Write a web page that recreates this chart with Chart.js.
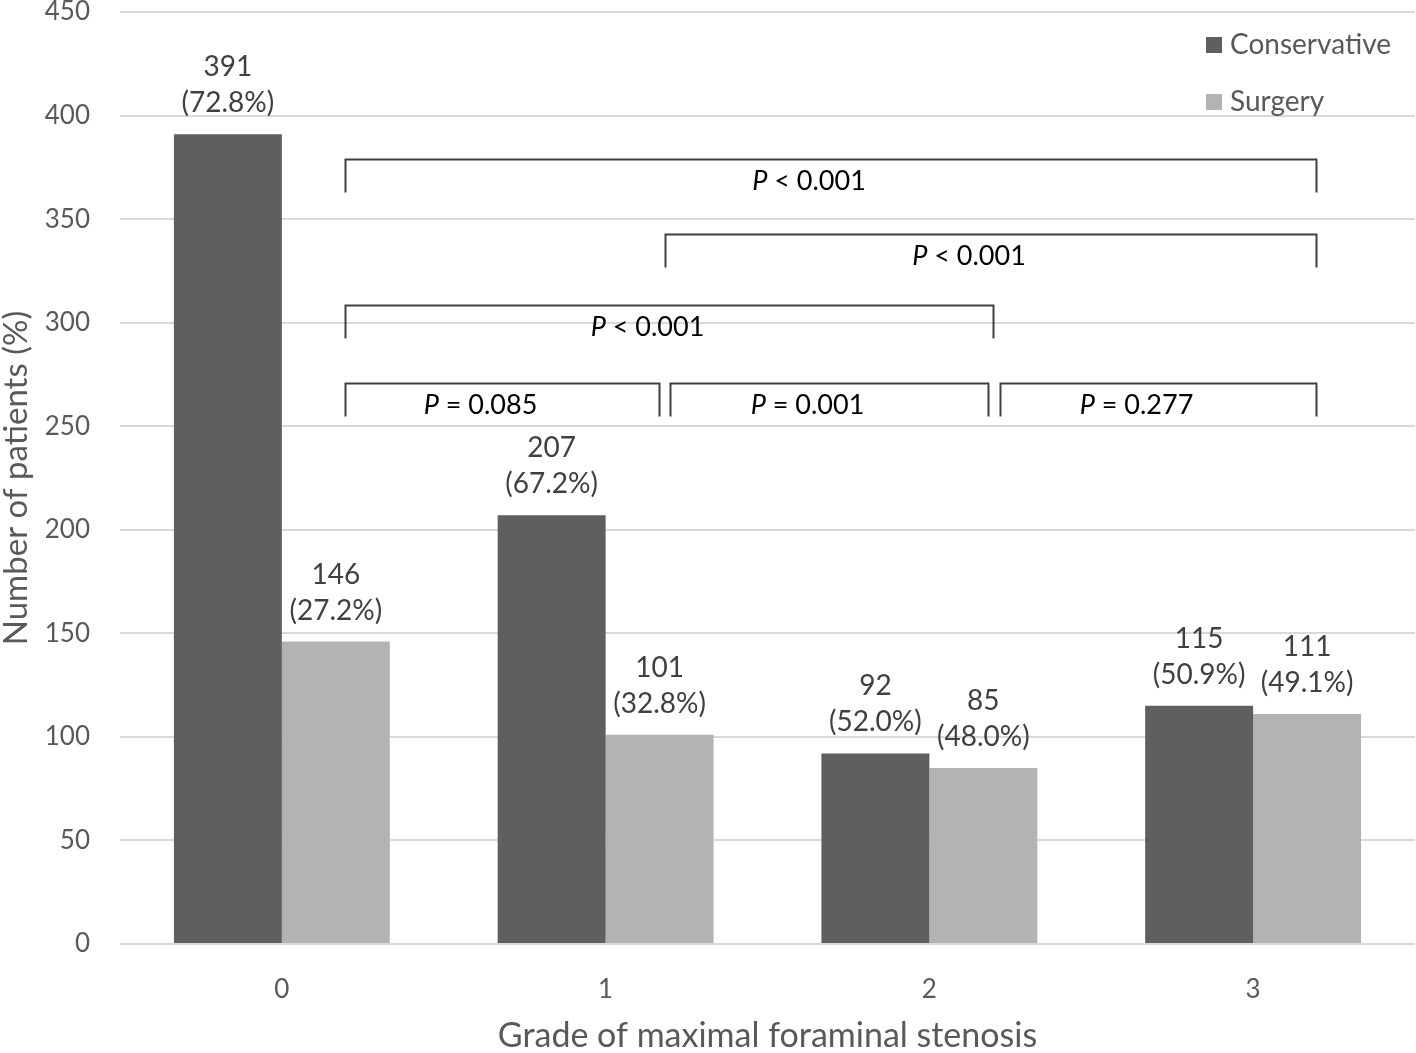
<!DOCTYPE html>
<html>
<head>
<meta charset="utf-8">
<script src="https://cdn.jsdelivr.net/npm/chart.js@4.4.1/dist/chart.umd.min.js"></script>
<style>
  html, body { margin: 0; padding: 0; background: #ffffff; }
  #grafico { display: block; }
</style>
</head>
<body>
<canvas id="grafico" width="1416" height="1053"></canvas>
<script>
// datos
const grados = ['0', '1', '2', '3'];
const conservador = [391, 207, 92, 115];
const cirugia = [146, 101, 85, 111];
const pctConservador = ['72.8%', '67.2%', '52.0%', '50.9%'];
const pctCirugia = ['27.2%', '32.8%', '48.0%', '49.1%'];
const series = ['Conservative', 'Surgery'];

// corchetes de comparacion: desde, hasta (posicion de categoria), altura (valor), p
const corcheteDesde = [0.194, 1.182, 0.194, 0.194, 1.198, 2.219];
const corcheteHasta = [3.194, 3.194, 2.198, 1.164, 2.182, 3.194];
const corcheteAltura = [379, 343, 308.5, 271, 271, 271];
const corcheteP = ['< 0.001', '< 0.001', '< 0.001', '= 0.085', '= 0.001', '= 0.277'];

const FUENTE = 'Lato, "Open Sans", sans-serif';
const COLOR_TEXTO = '#404040';

window.onload = main;

function main(){
    dibujarGrafico();
}

const etiquetasPlugin = {
    id: 'etiquetas',
    afterDatasetsDraw(chart){
        const ctx = chart.ctx;
        ctx.save();
        ctx.font = '28px ' + FUENTE;
        ctx.fillStyle = COLOR_TEXTO;
        ctx.textAlign = 'center';
        ctx.textBaseline = 'middle';
        chart.data.datasets.forEach((ds, i) => {
            const meta = chart.getDatasetMeta(i);
            const pct = i === 0 ? pctConservador : pctCirugia;
            meta.data.forEach((bar, j) => {
                ctx.fillText(String(ds.data[j]), bar.x, bar.y - 67);
                ctx.fillText('(' + pct[j] + ')', bar.x, bar.y - 31);
            });
        });
        ctx.restore();
    }
};

const corchetesPlugin = {
    id: 'corchetes',
    afterDatasetsDraw(chart){
        const ctx = chart.ctx;
        const x = chart.scales.x;
        const y = chart.scales.y;
        ctx.save();
        ctx.strokeStyle = '#404040';
        ctx.lineWidth = 2;
        ctx.fillStyle = '#000000';
        ctx.textBaseline = 'middle';
        for (let i = 0; i < corcheteP.length; i++){
            const x1 = Math.round(x.getPixelForValue(corcheteDesde[i])) + 0.5;
            const x2 = Math.round(x.getPixelForValue(corcheteHasta[i])) + 0.5;
            const yt = Math.round(y.getPixelForValue(corcheteAltura[i])) + 0.5;
            ctx.beginPath();
            ctx.moveTo(x1, yt + 33);
            ctx.lineTo(x1, yt);
            ctx.lineTo(x2, yt);
            ctx.lineTo(x2, yt + 33);
            ctx.stroke();

            // texto: P en cursiva
            const resto = ' ' + corcheteP[i];
            ctx.font = 'italic 27px ' + FUENTE;
            const wP = ctx.measureText('P').width;
            ctx.font = '27px ' + FUENTE;
            const wR = ctx.measureText(resto).width;
            const cx = (x1 + x2) / 2 - 22;
            const inicio = cx - (wP + wR) / 2;
            ctx.textAlign = 'left';
            ctx.font = 'italic 27px ' + FUENTE;
            ctx.fillText('P', inicio, yt + 22);
            ctx.font = '27px ' + FUENTE;
            ctx.fillText(resto, inicio + wP, yt + 22);
        }
        ctx.restore();
    }
};

const leyendaPlugin = {
    id: 'leyenda',
    afterDraw(chart){
        const ctx = chart.ctx;
        const area = chart.chartArea;
        ctx.save();
        ctx.font = '28px ' + FUENTE;
        ctx.textBaseline = 'middle';
        ctx.textAlign = 'left';
        chart.data.datasets.forEach((ds, i) => {
            const yy = area.top + 33 + i * 57;
            const xx = area.right - 209;
            ctx.fillStyle = ds.backgroundColor;
            ctx.fillRect(xx, yy - 8, 16, 16);
            ctx.fillStyle = '#595959';
            ctx.fillText(ds.label, xx + 24, yy);
        });
        ctx.restore();
    }
};

function dibujarGrafico(){
    const ctx = document.getElementById('grafico').getContext('2d');

    new Chart(ctx, {
        type: 'bar',
        data: {
            labels: grados,
            datasets: [
                {
                    label: series[0],
                    data: conservador,
                    backgroundColor: '#5f5f5f',
                    categoryPercentage: 0.667,
                    barPercentage: 1.0
                },
                {
                    label: series[1],
                    data: cirugia,
                    backgroundColor: '#b3b3b3',
                    categoryPercentage: 0.667,
                    barPercentage: 1.0
                }
            ]
        },
        options: {
            responsive: false,
            animation: false,
            layout: { padding: { top: 12, right: 1, left: 0, bottom: 0 } },
            plugins: {
                legend: { display: false },
                tooltip: { enabled: false }
            },
            scales: {
                x: {
                    grid: { display: false },
                    border: { display: false },
                    ticks: {
                        color: '#595959',
                        font: { family: FUENTE, size: 26 },
                        padding: 22
                    },
                    title: {
                        display: true,
                        text: 'Grade of maximal foraminal stenosis',
                        color: '#595959',
                        font: { family: FUENTE, size: 34, lineHeight: 1.0 },
                        padding: 0
                    },
                    afterFit(scale){ scale.height = 109; }
                },
                y: {
                    min: 0,
                    max: 450,
                    ticks: {
                        stepSize: 50,
                        color: '#595959',
                        font: { family: FUENTE, size: 26 },
                        padding: 30
                    },
                    grid: {
                        color: '#d9d9d9',
                        lineWidth: 2,
                        drawTicks: false
                    },
                    border: { display: false },
                    title: {
                        display: true,
                        text: 'Number of patients (%)',
                        color: '#595959',
                        font: { family: FUENTE, size: 33, lineHeight: 1.0 },
                        padding: 0
                    },
                    afterFit(scale){
                        scale.width = 120;
                        scale.paddingTop = 0;
                        scale.paddingBottom = 0;
                    }
                }
            }
        },
        plugins: [etiquetasPlugin, corchetesPlugin, leyendaPlugin]
    });
}
</script>
</body>
</html>
